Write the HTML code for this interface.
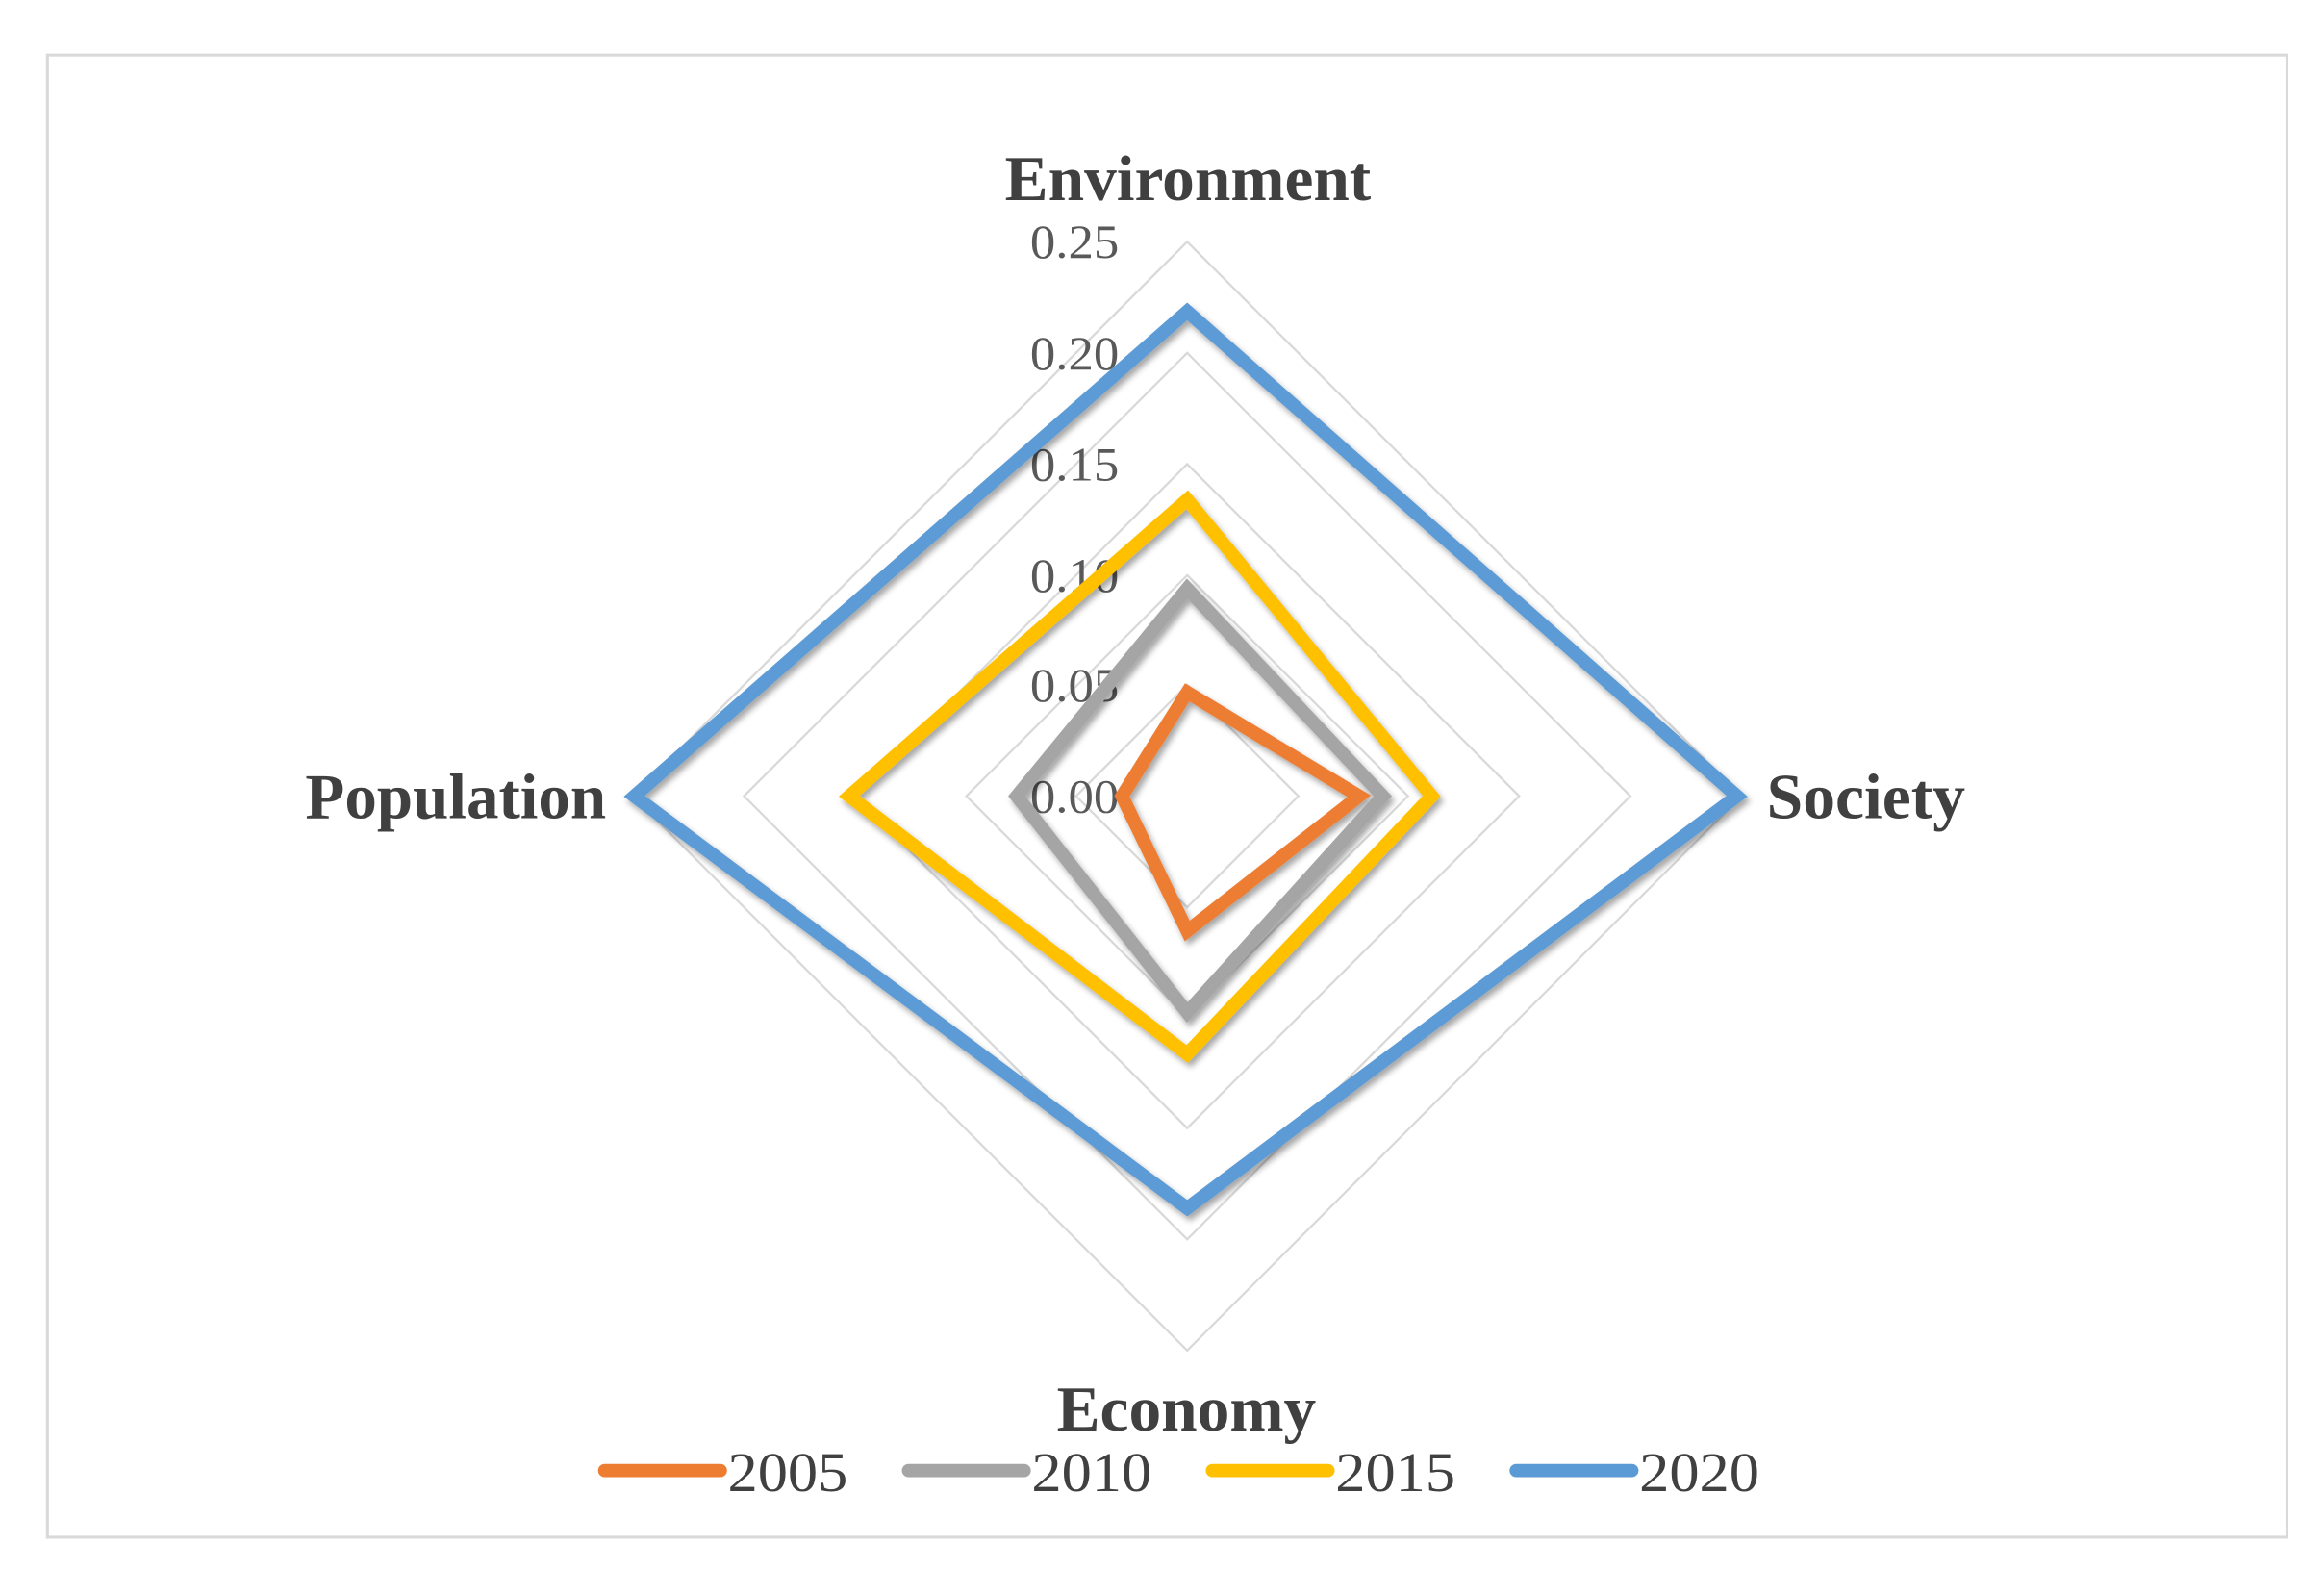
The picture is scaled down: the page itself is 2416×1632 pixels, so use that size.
<!DOCTYPE html>
<html><head><style>html,body{margin:0;padding:0;background:#fff}svg{display:block}</style></head>
<body>
<svg width="2416" height="1632" viewBox="0 0 1568 1059" xmlns="http://www.w3.org/2000/svg" font-family="Liberation Serif, serif">
<defs><filter id="sh" x="-20%" y="-20%" width="140%" height="140%"><feDropShadow dx="2" dy="3" stdDeviation="2" flood-color="#000" flood-opacity="0.35"/></filter></defs>
<rect x="32" y="37" width="1511" height="1000" fill="#fff" stroke="#d9d9d9" stroke-width="2"/>
<g fill="none" stroke="#d9d9d9" stroke-width="1.5">
<polygon points="801,163 1175,537 801,911 427,537"/>
<polygon points="801,238 1100,537 801,836 502,537"/>
<polygon points="801,313 1025,537 801,761 577,537"/>
<polygon points="801,388 950,537 801,686 652,537"/>
<polygon points="801,462 876,537 801,612 726,537"/>
</g>
<g font-size="32" fill="#595959">
<text x="695" y="174" textLength="60" lengthAdjust="spacingAndGlyphs">0.25</text>
<text x="695" y="249" textLength="60" lengthAdjust="spacingAndGlyphs">0.20</text>
<text x="695" y="324" textLength="60" lengthAdjust="spacingAndGlyphs">0.15</text>
<text x="695" y="399" textLength="60" lengthAdjust="spacingAndGlyphs">0.10</text>
<text x="695" y="473" textLength="60" lengthAdjust="spacingAndGlyphs">0.05</text>
<text x="695" y="548" textLength="60" lengthAdjust="spacingAndGlyphs">0.00</text>
</g>
<g fill="none" stroke-width="9" stroke-linejoin="miter" filter="url(#sh)">
<polygon stroke="#ed7d31" points="801,467 917,537 801,628 757,537"/>
<polygon stroke="#a5a5a5" points="801,397 933,537 801,683 686,537"/>
<polygon stroke="#ffc000" points="801,337 966,537 801,711 573,537"/>
<polygon stroke="#5b9bd5" points="801,210 1172,537 801,815 428,537"/>
</g>
<g font-size="43" font-weight="bold" fill="#404040">
<text x="678" y="135" textLength="247" lengthAdjust="spacingAndGlyphs">Environment</text>
<text x="1192" y="552" textLength="134" lengthAdjust="spacingAndGlyphs">Society</text>
<text x="206" y="552" textLength="203" lengthAdjust="spacingAndGlyphs">Population</text>
<text x="713" y="965" textLength="175" lengthAdjust="spacingAndGlyphs">Economy</text>
</g>
<g stroke-width="9" stroke-linecap="round">
<line x1="408" y1="992" x2="486" y2="992" stroke="#ed7d31"/>
<line x1="613" y1="992" x2="691" y2="992" stroke="#a5a5a5"/>
<line x1="818" y1="992" x2="896" y2="992" stroke="#ffc000"/>
<line x1="1023" y1="992" x2="1101" y2="992" stroke="#5b9bd5"/>
</g>
<g font-size="38" fill="#404040">
<text x="491" y="1006" textLength="81" lengthAdjust="spacingAndGlyphs">2005</text>
<text x="696" y="1006" textLength="81" lengthAdjust="spacingAndGlyphs">2010</text>
<text x="901" y="1006" textLength="81" lengthAdjust="spacingAndGlyphs">2015</text>
<text x="1106" y="1006" textLength="81" lengthAdjust="spacingAndGlyphs">2020</text>
</g>
</svg>
</body></html>
